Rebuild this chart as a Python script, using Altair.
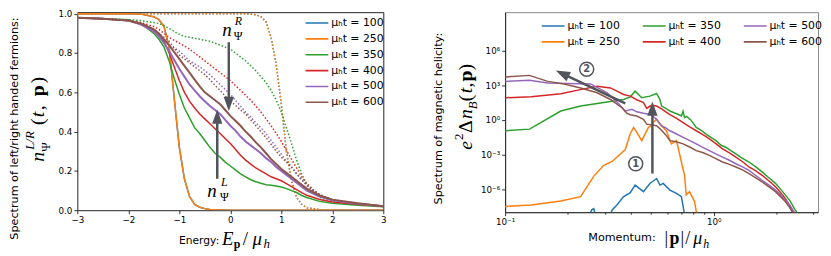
import altair as alt
import pandas as pd

# ---------------- data ----------------
times = [100, 250, 350, 400, 500, 600]
colors = ["#1f77b4", "#ff7f0e", "#2ca02c", "#d62728", "#9467bd", "#8c564b"]
labels = [f"μₕt = {t}" for t in times]

# Left panel: occupation numbers vs energy
E = [-3, -2.5, -2, -1.75, -1.5, -1.4, -1.3, -1.2, -1.1, -1.0, -0.9, -0.8, -0.7, -0.6, -0.5,
     -0.4, -0.3, -0.2, -0.1, 0, 0.1, 0.2, 0.3, 0.4, 0.5, 0.6, 0.7, 0.8, 0.9, 1.0, 1.1, 1.2,
     1.3, 1.4, 1.5, 1.75, 2.0, 2.5, 3.0]

nL_100 = [1.0, 1.0, 1.0, 0.998, 0.985, 0.97, 0.935, 0.83, 0.57, 0.32, 0.16, 0.07, 0.03, 0.015, 0.008,
          0.004, 0.002, 0.001, 0.001, 0, 0, 0, 0, 0, 0, 0, 0, 0, 0, 0, 0, 0,
          0, 0, 0, 0, 0, 0, 0]
nR_100 = [1.0, 1.0, 1.0, 1.0, 1.0, 1.0, 1.0, 1.0, 1.0, 1.0, 1.0, 1.0, 1.0, 1.0, 1.0,
          1.0, 1.0, 1.0, 1.0, 1.0, 1.0, 1.0, 1.0, 0.998, 0.995, 0.985, 0.96, 0.88, 0.74, 0.54, 0.30, 0.15,
          0.065, 0.03, 0.012, 0.003, 0.001, 0, 0]
nL_250 = [1.0, 1.0, 1.0, 0.998, 0.985, 0.97, 0.935, 0.83, 0.57, 0.32, 0.16, 0.07, 0.03, 0.015, 0.008,
          0.004, 0.002, 0.001, 0.001, 0, 0, 0, 0, 0, 0, 0, 0, 0, 0, 0, 0, 0,
          0, 0, 0, 0, 0, 0, 0]
nR_250 = [1.0, 1.0, 1.0, 1.0, 1.0, 1.0, 1.0, 1.0, 1.0, 1.0, 1.0, 1.0, 1.0, 1.0, 1.0,
          1.0, 1.0, 1.0, 1.0, 1.0, 1.0, 1.0, 1.0, 0.998, 0.995, 0.985, 0.96, 0.88, 0.74, 0.54, 0.30, 0.15,
          0.065, 0.03, 0.012, 0.003, 0.001, 0, 0]
nL_350 = [0.98, 0.975, 0.97, 0.95, 0.90, 0.87, 0.83, 0.76, 0.67, 0.59, 0.52, 0.47, 0.42, 0.39, 0.355,
          0.32, 0.29, 0.27, 0.245, 0.225, 0.205, 0.185, 0.17, 0.155, 0.145, 0.137, 0.13, 0.127, 0.123, 0.118, 0.11, 0.10,
          0.09, 0.075, 0.065, 0.045, 0.035, 0.025, 0.017]
nR_350 = [0.98, 0.975, 0.97, 0.965, 0.955, 0.95, 0.94, 0.925, 0.91, 0.895, 0.885, 0.88, 0.875, 0.87, 0.865,
          0.86, 0.85, 0.84, 0.83, 0.82, 0.80, 0.78, 0.76, 0.735, 0.71, 0.68, 0.65, 0.61, 0.56, 0.50, 0.42, 0.34,
          0.255, 0.185, 0.13, 0.065, 0.045, 0.03, 0.02]
nL_400 = [0.98, 0.975, 0.965, 0.95, 0.92, 0.895, 0.86, 0.80, 0.73, 0.66, 0.60, 0.555, 0.52, 0.49, 0.465,
          0.44, 0.415, 0.39, 0.365, 0.34, 0.31, 0.28, 0.255, 0.235, 0.215, 0.20, 0.185, 0.17, 0.16, 0.15, 0.135, 0.12,
          0.105, 0.09, 0.076, 0.055, 0.042, 0.03, 0.02]
nR_400 = [0.98, 0.975, 0.965, 0.955, 0.935, 0.92, 0.90, 0.88, 0.865, 0.85, 0.835, 0.82, 0.80, 0.78, 0.76,
          0.74, 0.72, 0.70, 0.68, 0.66, 0.635, 0.61, 0.585, 0.56, 0.53, 0.50, 0.465, 0.43, 0.39, 0.35, 0.305, 0.26,
          0.215, 0.17, 0.135, 0.075, 0.05, 0.03, 0.02]
nL_500 = [0.98, 0.975, 0.965, 0.945, 0.91, 0.885, 0.85, 0.81, 0.765, 0.72, 0.68, 0.64, 0.61, 0.58, 0.555,
          0.53, 0.51, 0.49, 0.46, 0.43, 0.405, 0.375, 0.35, 0.33, 0.31, 0.29, 0.265, 0.245, 0.22, 0.20, 0.18, 0.16,
          0.14, 0.12, 0.10, 0.07, 0.05, 0.033, 0.02]
nR_500 = [0.98, 0.975, 0.965, 0.945, 0.915, 0.895, 0.865, 0.84, 0.825, 0.81, 0.785, 0.76, 0.745, 0.73, 0.71,
          0.69, 0.665, 0.64, 0.615, 0.59, 0.56, 0.53, 0.50, 0.475, 0.445, 0.42, 0.39, 0.355, 0.32, 0.285, 0.25, 0.22,
          0.185, 0.155, 0.126, 0.08, 0.05, 0.033, 0.02]
nL_600 = [0.98, 0.975, 0.965, 0.95, 0.92, 0.90, 0.87, 0.84, 0.805, 0.77, 0.735, 0.70, 0.665, 0.63, 0.60,
          0.58, 0.56, 0.54, 0.51, 0.48, 0.455, 0.43, 0.40, 0.375, 0.345, 0.32, 0.29, 0.26, 0.235, 0.21, 0.19, 0.17,
          0.15, 0.13, 0.11, 0.075, 0.054, 0.035, 0.02]
nR_600 = [0.98, 0.975, 0.965, 0.95, 0.92, 0.90, 0.88, 0.86, 0.825, 0.79, 0.77, 0.75, 0.73, 0.71, 0.69,
          0.665, 0.635, 0.61, 0.58, 0.555, 0.535, 0.51, 0.49, 0.46, 0.43, 0.40, 0.37, 0.335, 0.30, 0.27, 0.245, 0.22,
          0.185, 0.155, 0.126, 0.08, 0.054, 0.035, 0.02]

nL = {100: nL_100, 250: nL_250, 350: nL_350, 400: nL_400, 500: nL_500, 600: nL_600}
nR = {100: nR_100, 250: nR_250, 350: nR_350, 400: nR_400, 500: nR_500, 600: nR_600}

# Right panel: helicity spectrum (log10 k, log10 value)
lk_100 = [-0.60, -0.585, -0.575, -0.565, -0.50, -0.487, -0.464, -0.432, -0.40, -0.377, -0.337,
          -0.306, -0.274, -0.258, -0.242, -0.21, -0.179, -0.155, -0.14]
ly_100 = [-8.4, -7.8, -7.7, -8.4, -8.4, -7.8, -7.37, -6.65, -6.3, -5.65, -6.22,
          -5.51, -5.08, -5.65, -5.5, -6.08, -6.37, -6.65, -8.2]
lk_250 = [-1.0, -0.875, -0.733, -0.638, -0.574, -0.527, -0.487, -0.424, -0.40, -0.384, -0.369, -0.345,
          -0.313, -0.298, -0.29, -0.274, -0.258, -0.227, -0.203, -0.179, -0.171, -0.155, -0.14, -0.132,
          -0.116, -0.092, -0.084, -0.07]
ly_250 = [-7.51, -7.37, -7.03, -6.65, -4.85, -3.94, -3.6, -2.57, -1.2, -0.65, -1.08, -1.8,
          -0.65, -0.51, -0.23, 0.06, -0.37, -0.94, -2.08, -1.8, -2.37, -3.65, -4.8, -6.5,
          -6.22, -7.08, -7.93, -8.5]
lk_350 = [-1.0, -0.883, -0.733, -0.638, -0.559, -0.432, -0.40, -0.377, -0.345, -0.306, -0.274, -0.258,
          -0.25, -0.23, -0.21, -0.19, -0.171, -0.155, -0.147, -0.14, -0.13, -0.11, -0.084, -0.06, -0.037,
          -0.01, 0.011, 0.035, 0.058, 0.08, 0.106, 0.13, 0.169, 0.2, 0.232, 0.26, 0.296, 0.32, 0.343,
          0.365, 0.39, 0.41]
ly_350 = [-0.94, -0.8, 0.77, 1.2, 1.43, 1.77, 2.0, 2.49, 1.92, 2.06, 2.29, 1.77,
          1.2, 1.0, 0.77, 0.62, 0.49, 0.35, 0.75, 0.2, 0.3, 0.0, -0.65, -0.9, -1.23,
          -1.55, -1.8, -2.2, -2.37, -2.65, -2.94, -3.25, -3.65, -4.05, -4.5, -4.95, -5.5, -6.0, -6.5,
          -7.0, -7.8, -8.3]
lk_400 = [-1.0, -0.875, -0.733, -0.622, -0.559, -0.495, -0.464, -0.432, -0.40, -0.369, -0.337, -0.321,
          -0.305, -0.29, -0.274, -0.25, -0.23, -0.21, -0.18, -0.147, -0.115, -0.084, -0.05, -0.021,
          0.01, 0.042, 0.075, 0.106, 0.14, 0.169, 0.2, 0.232, 0.265, 0.296, 0.32, 0.343, 0.36, 0.375, 0.39]
ly_400 = [1.92, 2.0, 2.26, 2.69, 2.91, 2.77, 2.49, 2.2, 2.06, 1.75, 1.5, 1.0,
          1.2, 1.25, 1.2, 0.95, 0.7, 0.45, 0.15, -0.23, -0.6, -0.94, -1.3, -1.65,
          -2.05, -2.51, -2.85, -3.22, -3.65, -4.08, -4.4, -4.8, -5.3, -5.8, -6.3, -6.8, -7.3, -7.9, -8.4]
lk_500 = [-1.0, -0.883, -0.796, -0.7, -0.59, -0.511, -0.456, -0.424, -0.392, -0.369, -0.337, -0.306,
          -0.274, -0.25, -0.23, -0.21, -0.18, -0.147, -0.115, -0.084, -0.05, -0.021, 0.01, 0.042, 0.075,
          0.106, 0.14, 0.169, 0.2, 0.232, 0.265, 0.296, 0.32, 0.343, 0.365, 0.383, 0.4]
ly_500 = [3.34, 3.43, 3.2, 3.15, 3.12, 2.35, 1.4, 0.77, 0.92, 0.7, 0.57, 0.5,
          0.06, -0.5, -0.7, -0.94, -1.2, -1.51, -1.8, -2.08, -2.4, -2.66, -2.95, -3.22, -3.5,
          -3.8, -4.1, -4.37, -4.8, -5.23, -5.65, -6.08, -6.5, -6.94, -7.4, -7.9, -8.4]
lk_600 = [-1.0, -0.883, -0.796, -0.717, -0.638, -0.559, -0.495, -0.44, -0.416, -0.40, -0.369, -0.337,
          -0.321, -0.274, -0.25, -0.23, -0.21, -0.18, -0.147, -0.115, -0.084, -0.05, -0.021, 0.01, 0.042,
          0.075, 0.106, 0.14, 0.169, 0.2, 0.232, 0.265, 0.296, 0.32, 0.343, 0.36, 0.375, 0.39]
ly_600 = [3.72, 3.86, 3.34, 3.12, 2.77, 2.35, 1.77, 1.06, 0.57, 0.45, 0.34, 0.06,
          -0.37, -0.5, -0.9, -1.3, -1.8, -1.9, -2.08, -2.35, -2.66, -2.85, -3.08, -3.35, -3.65,
          -3.85, -4.08, -4.35, -4.65, -5.0, -5.37, -5.8, -6.22, -6.65, -7.08, -7.5, -7.9, -8.4]

LK = {100: lk_100, 250: lk_250, 350: lk_350, 400: lk_400, 500: lk_500, 600: lk_600}
LY = {100: ly_100, 250: ly_250, 350: ly_350, 400: ly_400, 500: ly_500, 600: ly_600}

# ---------------- style ----------------
SANS = "DejaVu Sans"
SERIF = "Liberation Serif"
ARROW = "#50555c"
HEAD = "M0,0L0.65,1.8L-0.65,1.8Z"
LEGSYM = "M-2.3,0H2.3"   # wide line symbol, scaled by sqrt(size)/2
ONE = pd.DataFrame({"a": [0]})

LW, LH = 309, 200
RW, RH = 316, 202
MS = 20  # math font size


def T(s, x, y, size, dx=0, dy=0, angle=0, font=SANS, style="normal", weight="normal",
      align="left", baseline="alphabetic", color="black"):
    return alt.Chart(ONE).mark_text(
        text=s, fontSize=size, dx=dx, dy=dy, angle=angle, font=font, fontStyle=style,
        fontWeight=weight, align=align, baseline=baseline, color=color
    ).encode(x=alt.value(x), y=alt.value(y))


AX = dict(domain=False, grid=False, tickColor="black", tickSize=3.5, tickWidth=0.8,
          labelFont=SANS, labelFontSize=8.8, labelColor="black", labelPadding=2,
          labelOverlap=False, title=None)


def XL():
    return alt.X("E:Q", scale=alt.Scale(domain=[-3, 3], nice=False, zero=False),
                 axis=alt.Axis(values=[-3, -2, -1, 0, 1, 2, 3],
                               labelExpr="replace(format(datum.value, 'd'), '-', '−')",
                               labelFlush=False, **AX))


def YL():
    return alt.Y("n:Q", scale=alt.Scale(domain=[0, 1.008], nice=False, zero=False),
                 axis=alt.Axis(values=[0, 0.2, 0.4, 0.6, 0.8, 1.0], format=".1f", **AX))


# ---------------- left panel ----------------
rowsL = []
for t, lab in zip(times, labels):
    for kind, arr in (("L", nL[t]), ("R", nR[t])):
        for e, v in zip(E, arr):
            rowsL.append({"E": e, "n": v, "t": t, "kind": kind, "lab": lab})
dfL = pd.DataFrame(rowsL)

colL = alt.Color("lab:N", scale=alt.Scale(domain=labels, range=colors),
                 legend=alt.Legend(title=None, orient="none", legendX=236, legendY=5,
                                   symbolType=LEGSYM, symbolSize=100, symbolStrokeWidth=1.6,
                                   symbolDash=[1, 0], symbolFillColor="transparent",
                                   labelFont=SANS, labelFontSize=11,
                                   labelOffset=8.5, rowPadding=5, padding=0))

left_layers = []
for t in times:
    for kind in ("L", "R"):
        wide = 2.0 if t in (500, 600) else 1.5
        mk = dict(strokeWidth=wide if kind == "L" else 1.5, clip=True)
        if kind == "R":
            mk["strokeDash"] = [1.5, 2]
        left_layers.append(
            alt.Chart(dfL).transform_filter(f"datum.t == {t} && datum.kind == '{kind}'")
            .mark_line(**mk).encode(x=XL(), y=YL(), color=colL)
        )

arrL = pd.DataFrame({"E": [-0.03, -0.256], "n": [0.855, 0.16],
                     "n2": [0.505 + 0.06, 0.513 - 0.06]})
headL = pd.DataFrame({"E": [-0.03, -0.256], "n": [0.505, 0.513], "ang": [180, 0]})
left_layers.append(alt.Chart(arrL).mark_rule(color=ARROW, strokeWidth=2.5).encode(
    x=XL(), y=YL(), y2="n2:Q"))
left_layers.append(alt.Chart(headL).mark_point(shape=HEAD, filled=True, size=256, color=ARROW,
                                               opacity=1, strokeWidth=0).encode(
    x=XL(), y=YL(), angle=alt.Angle("ang:Q", scale=None)))

# n_Psi^R and n_Psi^L labels
left_layers += [
    T("n", 151, 18, 19, font=SERIF, style="italic", align="center", baseline="middle"),
    T("R", 159, 9, 12, font=SERIF, style="italic", align="left", baseline="middle"),
    T("Ψ", 158, 24, 12, font=SERIF, align="left", baseline="middle"),
    T("n", 136, 181, 19, font=SERIF, style="italic", align="center", baseline="middle"),
    T("L", 145, 172, 12, font=SERIF, style="italic", align="left", baseline="middle"),
    T("Ψ", 144, 187, 12, font=SERIF, align="left", baseline="middle"),
]
# axis titles
left_layers += [
    T("Spectrum of left/right handed fermions:", -63, 117.5, 11.3, angle=270,
      align="center", baseline="middle"),
    T("n", -34, 151, MS, angle=270, font=SERIF, style="italic"),
    T("Ψ", -34, 151, 13, dx=10, dy=6, angle=270, font=SERIF),
    T("L/R", -34, 151, 13, dx=12, dy=-10, angle=270, font=SERIF, style="italic"),
    T("(", -34, 151, MS, dx=37, angle=270, font=SERIF),
    T("t", -34, 151, MS, dx=45, angle=270, font=SERIF, style="italic"),
    T(",", -34, 151, MS, dx=52, angle=270, font=SERIF),
    T("p", -34, 151, MS, dx=66, angle=270, font=SERIF, weight="bold"),
    T(")", -34, 151, MS, dx=79, angle=270, font=SERIF),
    T("Energy:", 123, 231, 10.8, align="center", baseline="middle"),
    T("E", 146, 235, 19, font=SERIF, style="italic"),
    T("p", 158, 238, 12, font=SERIF, weight="bold"),
    T("/", 167, 235, 19, font=SERIF),
    T("μ", 177, 235, 19, font=SERIF, style="italic"),
    T("h", 188, 238, 13, font=SERIF, style="italic"),
]

left = alt.layer(*left_layers).properties(
    width=LW, height=LH, view=alt.ViewBackground(stroke="#222", strokeWidth=1))

# ---------------- right panel ----------------
RAX = dict(AX)
RAX.update(domain=True, domainColor="#222")


def XR():
    return alt.X("k:Q", scale=alt.Scale(type="log", domain=[0.1, 10 ** 0.5], nice=False),
                 axis=alt.Axis(values=[0.1, 0.2, 0.3, 0.4, 0.5, 0.6, 0.7, 0.8, 0.9, 1, 2, 3],
                               labelExpr="datum.value == 0.1 ? '10⁻¹' : (datum.value == 1 ? '10⁰' : '')",
                               labelFlush=False,
                               **{**RAX, "tickSize": {"condition": {
                                   "test": "datum.value == 0.1 || datum.value == 1",
                                   "value": 3.5}, "value": 2}}))


def YR():
    return alt.Y("v:Q", scale=alt.Scale(type="log", domain=[1e-8, 10 ** 9.34], nice=False),
                 axis=alt.Axis(values=[1e-6, 1e-3, 1, 1e3, 1e6],
                               labelExpr="datum.value < 1e-5 ? '10⁻⁶' : (datum.value < 1e-2 ? '10⁻³' : "
                                         "(datum.value < 10 ? '10⁰' : (datum.value < 1e4 ? '10³' : '10⁶')))",
                               **RAX))


rowsR = []
for t, lab in zip(times, labels):
    for a, b in zip(LK[t], LY[t]):
        rowsR.append({"k": 10 ** a, "v": 10 ** b, "t": t, "lab": lab})
dfR = pd.DataFrame(rowsR)

colR = alt.Color("lab:N", scale=alt.Scale(domain=labels, range=colors),
                 legend=alt.Legend(title=None, orient="none", legendX=42.5, legendY=8, columns=3,
                                   symbolType=LEGSYM, symbolSize=100, symbolStrokeWidth=1.6,
                                   symbolDash=[1, 0], symbolFillColor="transparent",
                                   labelFont=SANS, labelFontSize=11,
                                   labelOffset=8.5, rowPadding=5, columnPadding=19, padding=0))

right_layers = []
for t in times:
    right_layers.append(
        alt.Chart(dfR).transform_filter(f"datum.t == {t}")
        .mark_line(strokeWidth=1.5, clip=True).encode(x=XR(), y=YR(), color=colR)
    )

a2_k0, a2_y0, a2_k1, a2_y1 = -0.424, 1.43, -0.757, 4.28
frac = 1 - 12 / 77.5
arrR = pd.DataFrame({
    "k": [10 ** -0.294, 10 ** a2_k0],
    "v": [10 ** -4.65, 10 ** a2_y0],
    "k2": [10 ** -0.294, 10 ** (a2_k0 + frac * (a2_k1 - a2_k0))],
    "v2": [10 ** (1.6 - 12 / 11.67), 10 ** (a2_y0 + frac * (a2_y1 - a2_y0))],
})
headR = pd.DataFrame({"k": [10 ** -0.294, 10 ** a2_k1], "v": [10 ** 1.6, 10 ** a2_y1],
                      "ang": [0, 295.5]})
circ = pd.DataFrame({"k": [10 ** -0.374, 10 ** -0.609], "v": [10 ** -3.8, 10 ** 4.4],
                     "s": ["1", "2"]})
right_layers += [
    alt.Chart(arrR).mark_rule(color=ARROW, strokeWidth=2.5).encode(
        x=XR(), y=YR(), x2="k2:Q", y2="v2:Q"),
    alt.Chart(headR).mark_point(shape=HEAD, filled=True, size=256, color=ARROW, opacity=1,
                                strokeWidth=0).encode(
        x=XR(), y=YR(), angle=alt.Angle("ang:Q", scale=None)),
    alt.Chart(circ).mark_point(shape="circle", size=200, filled=False, color=ARROW,
                               strokeWidth=1.5, opacity=1).encode(x=XR(), y=YR()),
    alt.Chart(circ).mark_text(fontSize=10, fontWeight="bold", color=ARROW, font=SANS,
                              align="center", baseline="middle").encode(
        x=XR(), y=YR(), text="s:N"),
]
right_layers += [
    T("Spectrum of magnetic helicity:", -67, 107.5, 11.3, angle=270, align="center",
      baseline="middle"),
    T("e", -33, 139, MS, angle=270, font=SERIF, style="italic"),
    T("2", -33, 139, 13, dx=10, dy=-10, angle=270, font=SERIF),
    T("Δ", -33, 139, MS, dx=17, angle=270, font=SERIF),
    T("n", -33, 139, MS, dx=31, angle=270, font=SERIF, style="italic"),
    T("B", -33, 139, 13, dx=41, dy=5, angle=270, font=SERIF, style="italic"),
    T("(", -33, 139, MS, dx=49, angle=270, font=SERIF),
    T("t", -33, 139, MS, dx=57, angle=270, font=SERIF, style="italic"),
    T(",", -33, 139, MS, dx=63, angle=270, font=SERIF),
    T("p", -33, 139, MS, dx=69, angle=270, font=SERIF, weight="bold"),
    T(")", -33, 139, MS, dx=80, angle=270, font=SERIF),
    T("Momentum:", 118, 228, 11.3, align="center", baseline="middle"),
    T("|", 161, 234, 18, font=SERIF),
    T("p", 166, 234, 18, font=SERIF, weight="bold"),
    T("|", 177, 234, 18, font=SERIF),
    T("/", 182, 234, 18, font=SERIF),
    T("μ", 190, 234, 18, font=SERIF, style="italic"),
    T("h", 200, 238, 12, font=SERIF, style="italic"),
]

right = alt.layer(*right_layers).properties(
    width=RW, height=RH, view=alt.ViewBackground(stroke="#888", strokeWidth=1))

chart = alt.hconcat(left, right, spacing=45).resolve_scale(color="independent").properties(
    padding={"left": 0, "top": 0, "right": 0, "bottom": 0}
).configure(font=SANS)

chart.save("out.html", embed_options={"renderer": "svg", "actions": False})
